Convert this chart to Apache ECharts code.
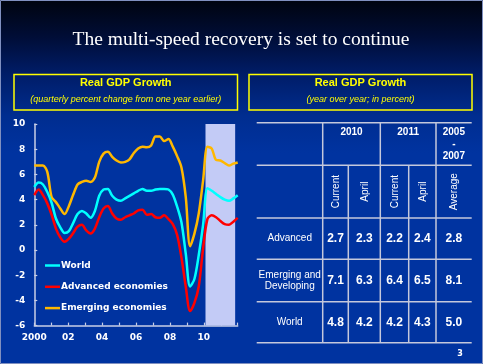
<!DOCTYPE html>
<html><head><meta charset="utf-8">
<script src="https://cdn.jsdelivr.net/npm/echarts@6/dist/echarts.min.js"></script>
<style>html,body{margin:0;padding:0;background:#0033a0;}#c{width:483px;height:364px;}</style>
</head><body><div id="c"></div>
<script>
// ---------- data ----------
const quarters = [];
for (let y = 2000; y <= 2011; y++) for (let q = 1; q <= 4; q++) quarters.push(y + 'Q' + q);

const world = [5.0,5.35,5.2,4.6,3.75,2.5,1.8,1.35,1.5,2.15,2.85,3.1,2.9,2.55,3.1,4.3,4.8,4.85,4.3,4.0,3.9,4.1,4.3,4.5,4.7,4.85,4.7,4.7,4.8,4.85,4.85,4.8,4.4,3.45,2.2,-0.3,-2.9,-2.3,-0.4,2.0,4.9,4.7,4.45,4.2,4.0,3.9,4.1,4.35];
const advanced = [4.35,4.8,4.35,3.7,2.8,1.7,1.0,0.65,0.9,1.35,1.85,2.0,1.55,1.3,1.7,2.6,3.3,3.5,2.9,2.5,2.4,2.6,2.75,2.9,3.15,3.2,2.8,2.85,2.6,2.55,2.75,2.45,2.05,1.2,-0.6,-2.9,-4.85,-4.2,-2.9,0.1,2.45,2.75,2.6,2.3,2.05,2.0,2.25,2.55];
const emerging = [6.7,6.7,6.7,6.2,4.2,3.8,3.3,2.85,3.5,4.4,5.2,5.4,5.5,5.4,5.75,7.0,7.65,7.8,7.4,7.1,6.95,7.0,7.2,7.7,8.05,8.2,8.15,8.3,9.0,9.0,8.65,8.8,8.2,7.45,6.55,4.2,0.3,1.3,2.9,5.5,8.2,8.05,7.15,7.1,6.9,6.7,6.85,6.95];
const seriesNames = ['World', 'Advanced economies', 'Emerging economies'];
const seriesColors = ['#00ffff', '#ff0000', '#ffb800'];

const yearLabelValues = [2000, 2002, 2004, 2006, 2008, 2010];
const yearLabelTexts = ['2000', '02', '04', '06', '08', '10'];
const shadeRange = [2010.1, 2011.85];

const titleText = 'The multi-speed recovery is set to continue';
const leftHead = ['Real GDP Growth', '(quarterly percent change from one year earlier)'];
const rightHead = ['Real GDP Growth', '(year over year; in percent)'];

const tableYears = ['2010', '2011', '2005\n-\n2007'];
const tableSub = ['Current', 'April', 'Current', 'April', 'Average'];
const tableRows = ['Advanced', 'Emerging and\nDeveloping', 'World'];
const tableValues = [
  ['2.7', '2.3', '2.2', '2.4', '2.8'],
  ['7.1', '6.3', '6.4', '6.5', '8.1'],
  ['4.8', '4.2', '4.2', '4.3', '5.0']
];
const pageNumber = '3';

// ---------- layout ----------
const W = 483, H = 364;
const shadow = { textShadowColor: 'rgba(0,0,0,0.85)', textShadowOffsetX: 1, textShadowOffsetY: 1, textShadowBlur: 0 };
const g = [];

g.push({ type: 'rect', shape: { x: 0.5, y: 0.5, width: W - 1, height: H - 1 }, style: { fill: 'none', stroke: '#8090c0', lineWidth: 1 }, silent: true, z: 0 });
g.push({ type: 'text', x: 241, y: 40, style: Object.assign({ text: titleText, fill: '#ffffff', font: '19.5px "Liberation Serif"', align: 'center', verticalAlign: 'middle' }, { textShadowColor: '#000', textShadowOffsetX: 2, textShadowOffsetY: 2 }), z: 10 });

function headBox(x0, x1, texts) {
  g.push({ type: 'rect', shape: { x: x0, y: 74.5, width: x1 - x0, height: 35.5 }, style: { fill: 'none', stroke: '#ffff00', lineWidth: 1.5 }, z: 10 });
  const cx = (x0 + x1) / 2;
  g.push({ type: 'text', x: cx, y: 83, style: Object.assign({ text: texts[0], fill: '#ffff00', font: 'bold 11px "Liberation Sans"', align: 'center', verticalAlign: 'middle' }, shadow), z: 10 });
  g.push({ type: 'text', x: cx, y: 99, style: Object.assign({ text: texts[1], fill: '#ffff00', font: 'italic 9px "Liberation Sans"', align: 'center', verticalAlign: 'middle' }, shadow), z: 10 });
}
headBox(14, 237.5, leftHead);
headBox(249, 472, rightHead);

const colX = [256.7, 322.7, 348.3, 380.3, 408.7, 436, 471.7];
const rowY = [122.7, 165.3, 218, 259.3, 301.7, 342.7];
const lineStyle = { stroke: '#c4c8dc', lineWidth: 1.5 };
rowY.forEach(y => g.push({ type: 'line', shape: { x1: colX[0], y1: y, x2: colX[6], y2: y }, style: lineStyle, z: 10 }));
[1, 3, 5].forEach(i => g.push({ type: 'line', shape: { x1: colX[i], y1: rowY[0], x2: colX[i], y2: rowY[5] }, style: lineStyle, z: 10 }));
[2, 4].forEach(i => g.push({ type: 'line', shape: { x1: colX[i], y1: rowY[1], x2: colX[i], y2: rowY[5] }, style: lineStyle, z: 10 }));
const yearCenters = [(colX[1] + colX[3]) / 2, (colX[3] + colX[5]) / 2, (colX[5] + colX[6]) / 2];
tableYears.forEach((t, i) => g.push({ type: 'text', x: yearCenters[i], y: 126, style: Object.assign({ text: t, fill: '#fff', font: 'bold 10px "Liberation Sans"', align: 'center', verticalAlign: 'top', lineHeight: 12 }, shadow), z: 10 }));
const subCenters = [];
for (let i = 1; i < 6; i++) subCenters.push((colX[i] + colX[i + 1]) / 2);
tableSub.forEach((t, i) => g.push({ type: 'text', x: subCenters[i] + 0.5, y: (rowY[1] + rowY[2]) / 2, rotation: Math.PI / 2, style: Object.assign({ text: t, fill: '#fff', font: '10px "Liberation Sans"', align: 'center', verticalAlign: 'middle' }, shadow), z: 10 }));
tableRows.forEach((r, ri) => {
  const cy = (rowY[ri + 2] + rowY[ri + 3]) / 2;
  g.push({ type: 'text', x: (colX[0] + colX[1]) / 2, y: cy, style: Object.assign({ text: r, fill: '#fff', font: '10px "Liberation Sans"', align: 'center', verticalAlign: 'middle', lineHeight: 11 }, shadow), z: 10 });
  tableValues[ri].forEach((v, ci) => g.push({ type: 'text', x: subCenters[ci], y: cy, style: Object.assign({ text: v, fill: '#fff', font: 'bold 12px "Liberation Sans"', align: 'center', verticalAlign: 'middle' }, shadow), z: 10 }));
});
g.push({ type: 'text', x: 460, y: 354, style: { text: pageNumber, fill: '#fff', font: 'bold 8px "DejaVu Sans"', align: 'center', verticalAlign: 'middle' }, z: 10 });

// ---------- chart ----------
const chart = echarts.init(document.getElementById('c'), null, { renderer: 'canvas' });
const axisColor = '#c8cfe6';
const labelFont = { color: '#ffffff', fontFamily: 'DejaVu Sans', fontWeight: 'bold', fontSize: 9 };

chart.setOption({
  animation: false,
  backgroundColor: { type: 'linear', x: 0, y: 0, x2: 0, y2: 1, colorStops: [
    { offset: 0, color: '#00040f' }, { offset: 0.1, color: '#000d36' }, { offset: 0.2, color: '#001c66' },
    { offset: 0.32, color: '#002d90' }, { offset: 0.42, color: '#0033a0' }, { offset: 1, color: '#0033a0' } ] },
  grid: { left: 34.3, top: 124, width: 203.4, height: 201.6 },
  legend: {
    left: 40, top: 256, orient: 'vertical', itemGap: 12.3, itemWidth: 15, itemHeight: 2.5, icon: 'rect',
    data: seriesNames, textStyle: Object.assign({}, labelFont, { padding: [0, 0, 0, -4] })
  },
  xAxis: [
    { type: 'category', data: quarters, boundaryGap: false, show: false },
    { type: 'value', min: 2000, max: 2012, interval: 1, position: 'bottom',
      axisLine: { show: true, onZero: true, lineStyle: { color: axisColor, width: 1.5 } },
      axisTick: { show: true, inside: true, length: 3, lineStyle: { color: axisColor, width: 1.2 } },
      axisLabel: { show: false }, splitLine: { show: false } },
    { type: 'value', min: 2000, max: 2012, interval: 2, position: 'bottom',
      axisLine: { show: false, onZero: false }, axisTick: { show: false }, splitLine: { show: false },
      axisLabel: Object.assign({ margin: 8, formatter: v => { const i = yearLabelValues.indexOf(v); return i >= 0 ? yearLabelTexts[i] : ''; } }, labelFont) }
  ],
  yAxis: {
    type: 'value', min: -6, max: 10, interval: 2,
    axisLine: { show: true, onZero: false, lineStyle: { color: axisColor, width: 1.5 } },
    axisTick: { show: true, inside: true, length: 3, lineStyle: { color: axisColor, width: 1.2 } },
    axisLabel: Object.assign({ margin: 9 }, labelFont), splitLine: { show: false }
  },
  graphic: g,
  series: [
    { type: 'line', name: 'shade', xAxisIndex: 1, data: [], z: 1, silent: true,
      markArea: { silent: true, itemStyle: { color: '#c3cbf6', opacity: 1 }, data: [[{ xAxis: shadeRange[0] }, { xAxis: shadeRange[1] }]] } },
    ...[emerging, advanced, world].map((d, k) => {
      const idx = [2, 1, 0][k];
      return { type: 'line', name: seriesNames[idx], xAxisIndex: 0, data: d, smooth: 0.3, showSymbol: false, z: 3,
        lineStyle: { color: seriesColors[idx], width: 2.5 }, itemStyle: { color: seriesColors[idx] } };
    })
  ]
});
</script></body></html>
